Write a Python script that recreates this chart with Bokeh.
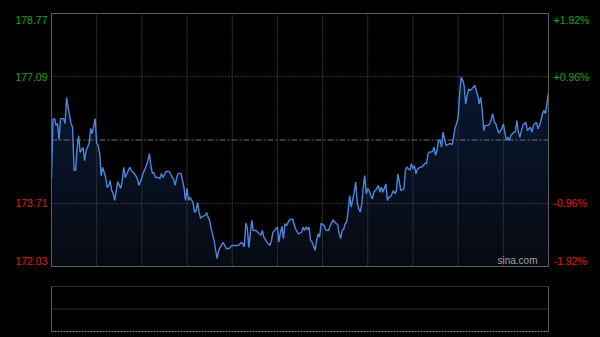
import numpy as np
from bokeh.plotting import figure
from bokeh.models import Range1d, ColumnDataSource
from bokeh.core.properties import value
from bokeh.embed import file_html
from bokeh.resources import INLINE

# ---- data (minutes since open, price) ----
times = [0, 1, 2, 3, 4, 5, 6, 8, 9, 10, 11, 13, 14, 15, 16, 17, 18, 19, 21, 22, 23, 25, 26, 27, 29, 30, 31, 32, 33, 34,
         36, 37, 38, 39, 40, 41, 42, 43, 44, 46, 47, 48, 49, 51, 52, 53, 55, 57, 58, 60, 61, 63, 64, 65,
         66, 67, 68, 69, 71, 72, 73, 74, 76, 78, 79, 80, 81, 82, 83, 84, 86, 87, 88, 89, 90, 91, 92, 94, 95, 96,
         97, 98, 99, 100, 102, 103, 104, 105, 106, 108, 109, 110, 111, 112, 114, 115, 116, 118, 119, 120, 122, 124,
         126, 127, 128, 129, 130, 131,
         133, 134, 136, 137, 139, 140, 141, 143, 145, 146, 147, 149, 150, 151, 152, 153, 154, 155, 156, 158, 160,
         161, 162, 164, 166, 167, 168, 169, 170, 171, 172, 173, 175, 176, 177, 178, 179, 181, 182, 184, 185, 187,
         188, 190, 191, 192, 193, 194, 195, 196, 197, 198,
         199, 201, 202, 203, 204, 205, 206, 207, 208, 209, 210, 211, 212, 213, 214, 216, 217, 218, 219, 220, 222,
         223, 224, 225, 227, 228, 229, 230, 232, 233, 234, 235, 236, 238, 239, 240, 241, 242, 243, 245, 246, 248,
         249, 250, 251, 253, 254, 255, 256, 257, 258, 259, 260, 261, 262, 264, 265,
         266, 267, 268, 269, 270, 271, 272, 273, 274, 275, 276, 277, 278, 279, 281, 282, 283, 284, 285, 286, 287,
         288, 290, 291, 293, 294, 295, 296, 297, 299, 300, 301, 302, 303, 304, 305, 307, 308, 309, 310, 311, 312,
         313, 315, 316, 317, 318, 319, 320, 322, 323, 324, 325, 326, 327, 328, 330]

prices = [174.40, 175.96, 175.97, 175.79, 175.84, 175.41, 175.97, 175.97, 175.84, 176.53, 176.27, 175.84, 175.73,
          174.59, 174.59, 175.20, 175.52, 175.07, 175.20, 174.85, 175.12, 175.31, 175.71, 175.57, 175.97, 175.31,
          175.25, 175.04, 174.45, 174.67, 174.40, 174.13, 174.19, 174.32, 174.05, 173.97, 173.79, 174.05, 174.29,
          174.11, 174.32, 174.67, 174.40, 174.59, 174.67, 174.59, 174.51, 174.37, 174.19, 174.40, 174.53, 174.72,
          174.85, 175.04,
          174.72, 174.51, 174.53, 174.40, 174.40, 174.37, 174.51, 174.40, 174.56, 174.56, 174.51, 174.40, 174.37,
          174.19, 174.37, 174.51, 174.51, 174.32, 174.13, 173.79, 174.11, 173.79, 173.87, 173.73, 173.47, 173.52,
          173.73, 173.47, 173.31, 173.36, 173.39, 173.47, 173.34, 173.26, 173.04, 172.72, 172.46, 172.24, 172.46,
          172.54, 172.67, 172.59, 172.51, 172.51, 172.56, 172.59, 172.59, 172.59, 172.67, 172.64, 172.56, 173.18,
          173.07, 172.54,
          173.26, 172.99, 172.99, 172.94, 172.86, 172.99, 172.81, 172.68, 172.59, 172.72, 172.94, 173.03, 173.08,
          172.68, 172.94, 173.10, 172.77, 173.17, 173.12, 173.27, 173.30, 173.17, 173.03, 172.90, 172.94, 173.08,
          172.99, 173.08, 173.01, 173.08, 172.72, 172.68, 172.46, 172.72, 172.90, 172.81, 173.18, 173.12, 173.01,
          172.99, 173.12, 173.27, 173.21, 173.15, 172.90, 172.77, 172.99, 173.03, 173.17, 173.21, 173.52, 173.92,
          173.61, 174.01, 174.28, 173.74, 173.57, 173.48, 173.70, 174.14, 174.45, 173.97, 174.10, 174.05, 173.92,
          173.83, 174.01, 174.10, 174.19, 174.01, 174.14, 174.01, 174.23, 173.79, 173.88, 173.88, 174.05, 173.97,
          174.05, 174.50, 174.05, 174.08, 174.10, 174.59, 174.68, 174.59, 174.77, 174.63, 174.72, 174.50, 174.63,
          174.68, 174.68, 174.78, 174.77, 175.03, 175.08, 175.09, 175.21, 174.99, 175.12, 175.39, 175.39, 175.21,
          175.61, 175.43, 175.25, 175.30, 175.30,
          175.28, 175.47, 175.74, 175.83, 176.01, 176.63, 177.08, 176.99, 176.85, 176.36, 176.59, 176.76, 176.72,
          176.76, 176.85, 176.72, 176.59, 176.36, 176.54, 176.19, 175.65, 175.79, 175.79, 175.83, 176.10, 175.87,
          175.83, 175.70, 175.58, 175.70, 175.83, 175.61, 175.39, 175.47, 175.39, 175.52, 175.61, 175.61, 175.92,
          175.61, 175.47, 175.65, 175.79, 175.87, 175.65, 175.70, 175.74, 175.61, 175.79, 175.87, 175.70, 175.79,
          175.92, 176.10, 176.19, 176.10, 176.67]

prev_close = 175.40
price_ticks = [172.03, 173.71, 177.09, 178.77]
price_labels = ["172.03", "173.71", "177.09", "178.77"]
pct_labels = ["-1.92%", "-0.96%", "+0.96%", "+1.92%"]
grid_minutes = [30, 60, 90, 120, 150, 180, 210, 240, 270, 300]
session_minutes = 330
watermark = "sina.com"

# ---- layout (pixels) ----
W, H = 600, 337
PX_L, PX_R = 51, 548          # price panel left/right
PX_T, PX_B = 13, 266          # price panel top/bottom
VX_T, VX_B = 286, 331         # volume panel top/bottom

Y_LO, Y_HI = price_ticks[0], price_ticks[-1]
GREEN = "#16a516"
RED = "#e01c1c"
FONT = "Liberation Sans"

xs = session_minutes / (PX_R - PX_L)          # minutes per pixel
ys = (Y_HI - Y_LO) / (PX_B - PX_T)            # price per pixel
x_range = Range1d(-PX_L * xs, session_minutes + (W - PX_R) * xs)
y_range = Range1d(Y_LO - (H - PX_B) * ys, Y_HI + PX_T * ys)
vs = 2.0 / (VX_B - VX_T)
vol_range = Range1d(-(H - VX_B) * vs, 2.0 + VX_T * vs)

t = np.array(times, dtype=float)
pr = np.array(prices, dtype=float)

p = figure(width=W, height=H, x_range=x_range, y_range=y_range,
           x_axis_type=None, y_axis_type=None,
           output_backend="svg", toolbar_location=None,
           min_border=0, min_border_left=0, min_border_right=0, min_border_top=0, min_border_bottom=0,
           background_fill_color="#000000", border_fill_color="#000000")
p.outline_line_color = None
p.outline_line_alpha = 0
p.extra_y_ranges = {"vol": vol_range}

# area under the line with a vertical gradient made of stacked translucent layers
p.varea(x=t, y1=Y_LO, y2=pr, fill_color="#070a10", fill_alpha=1.0)
for lvl in np.arange(172.2, 177.2, 0.36):
    p.varea(x=t, y1=lvl, y2=np.maximum(pr, lvl), fill_color="#23406e", fill_alpha=0.035)

# grid
p.segment(x0=grid_minutes, x1=grid_minutes, y0=Y_LO, y1=Y_HI,
          line_color="#3c3c3c", line_dash="2 1", line_width=1)
p.segment(x0=0, x1=session_minutes, y0=[price_ticks[1], price_ticks[2]], y1=[price_ticks[1], price_ticks[2]],
          line_color="#5e5e5e", line_dash="1 2", line_width=1)
p.segment(x0=0, x1=session_minutes, y0=prev_close, y1=prev_close,
          line_color="#707070", line_dash="6 2 2 2", line_width=1)

# price line
p.line(t, pr, line_color="#4e86dc", line_width=1.4)

# frame of price panel
p.quad(left=0, right=session_minutes, bottom=Y_LO, top=Y_HI,
       fill_alpha=0, line_color="#5c5c5c", line_width=1)

# tick labels coloured by side of previous close
colors = [GREEN if v > prev_close else RED for v in price_ticks]
dys = [-6, 0, 0, 6]
lab_src = ColumnDataSource(dict(y=price_ticks, lab=price_labels, pct=pct_labels, c=colors, dy=dys,
                                xl=[0] * 4, xr=[session_minutes] * 4))
p.text(x="xl", y="y", text="lab", text_color="c", y_offset="dy", x_offset=-4,
       text_align="right", text_baseline="middle",
       text_font=value(FONT), text_font_size="10.5px", source=lab_src)
p.text(x="xr", y="y", text="pct", text_color="c", y_offset="dy", x_offset=5,
       text_align="left", text_baseline="middle",
       text_font=value(FONT), text_font_size="10.5px", source=lab_src)

p.text(x=[session_minutes], y=[Y_LO], text=[watermark], x_offset=-11, y_offset=-1,
       text_align="right", text_baseline="bottom", text_color="#a0a0a0",
       text_font=value(FONT), text_font_size="10px")

# lower (volume) panel frame and guides
p.segment(x0=[0, session_minutes], x1=[0, session_minutes], y0=0, y1=2,
          line_color="#555555", line_width=1, y_range_name="vol")
p.segment(x0=0, x1=session_minutes, y0=[2, 1], y1=[2, 1],
          line_color="#5e5e5e", line_dash="1 1", line_width=1, y_range_name="vol")
p.segment(x0=0, x1=session_minutes, y0=0, y1=0,
          line_color="#8a8a8a", line_dash="2 1", line_width=1, y_range_name="vol")

html = file_html(p, INLINE)
css = ("<style>html,body{margin:0;padding:0;background:#000000;overflow:hidden;}"
       "svg,canvas{border:none;outline:none;}</style>")
html = html.replace("</head>", css + "</head>", 1)
open("out.html", "w").write(html)
